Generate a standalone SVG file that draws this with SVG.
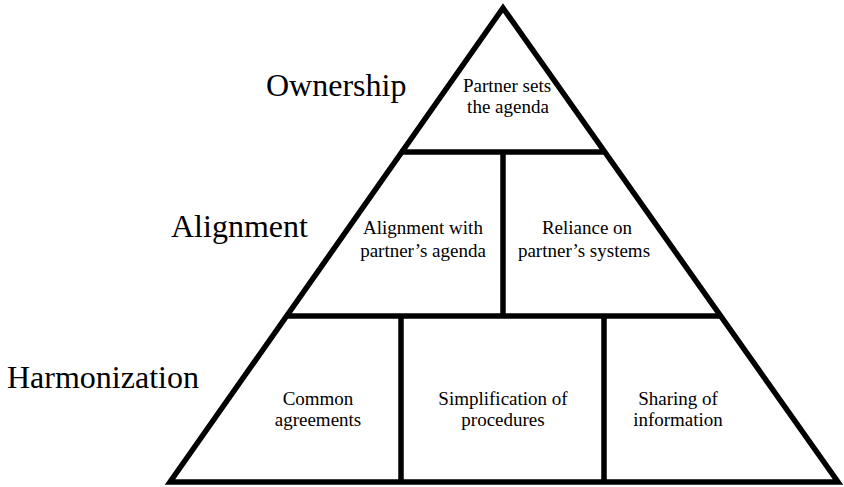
<svg xmlns="http://www.w3.org/2000/svg" width="844" height="487" viewBox="0 0 844 487">
<style>
.cell{fill:#fff;stroke:none}
.ln{stroke:#000;stroke-width:5.5;fill:none;stroke-linejoin:miter;stroke-linecap:butt}
.lbl{font-family:"Liberation Serif","Times New Roman",serif;font-size:32px;fill:#000}
.t{font-family:"Liberation Serif","Times New Roman",serif;font-size:19px;fill:#000;text-anchor:middle}
</style>
<rect width="844" height="487" fill="#fff"/>
<g id="level-labels">
<text class="lbl" x="266" y="96">Ownership</text>
<text class="lbl" x="171" y="237">Alignment</text>
<text class="lbl" x="7" y="388">Harmonization</text>
</g>
<g id="ownership">
<polygon class="cell" points="503,8 604,152 402,152"/>
<text class="t" x="507" y="92" font-size="18.5">Partner sets</text>
<text class="t" x="508" y="113" font-size="18.5">the agenda</text>
</g>
<g id="alignment-agenda">
<polygon class="cell" points="402,152 503,152 503,316 287,316"/>
<text class="t" x="423" y="234">Alignment with</text>
<text class="t" x="423" y="257">partner’s agenda</text>
</g>
<g id="reliance-systems">
<polygon class="cell" points="503,152 604,152 719,316 503,316"/>
<text class="t" x="587" y="234">Reliance on</text>
<text class="t" x="584" y="257">partner’s systems</text>
</g>
<g id="common-agreements">
<polygon class="cell" points="287,316 401,316 401,482 170,482"/>
<text class="t" x="318" y="405">Common</text>
<text class="t" x="318" y="426">agreements</text>
</g>
<g id="simplification">
<rect class="cell" x="401" y="316" width="203" height="166"/>
<text class="t" x="503" y="405">Simplification of</text>
<text class="t" x="503" y="426">procedures</text>
</g>
<g id="sharing-information">
<polygon class="cell" points="604,316 719,316 838,482 604,482"/>
<text class="t" x="678" y="405">Sharing of</text>
<text class="t" x="678" y="426">information</text>
</g>
<g id="connectors">
<polygon class="ln" points="503,8 838,482 170,482"/>
<line class="ln" x1="400" y1="152" x2="606" y2="152"/>
<line class="ln" x1="285" y1="316" x2="721" y2="316"/>
<line class="ln" x1="503" y1="152" x2="503" y2="316"/>
<line class="ln" x1="401" y1="316" x2="401" y2="482"/>
<line class="ln" x1="604" y1="316" x2="604" y2="482"/>
</g>
</svg>
